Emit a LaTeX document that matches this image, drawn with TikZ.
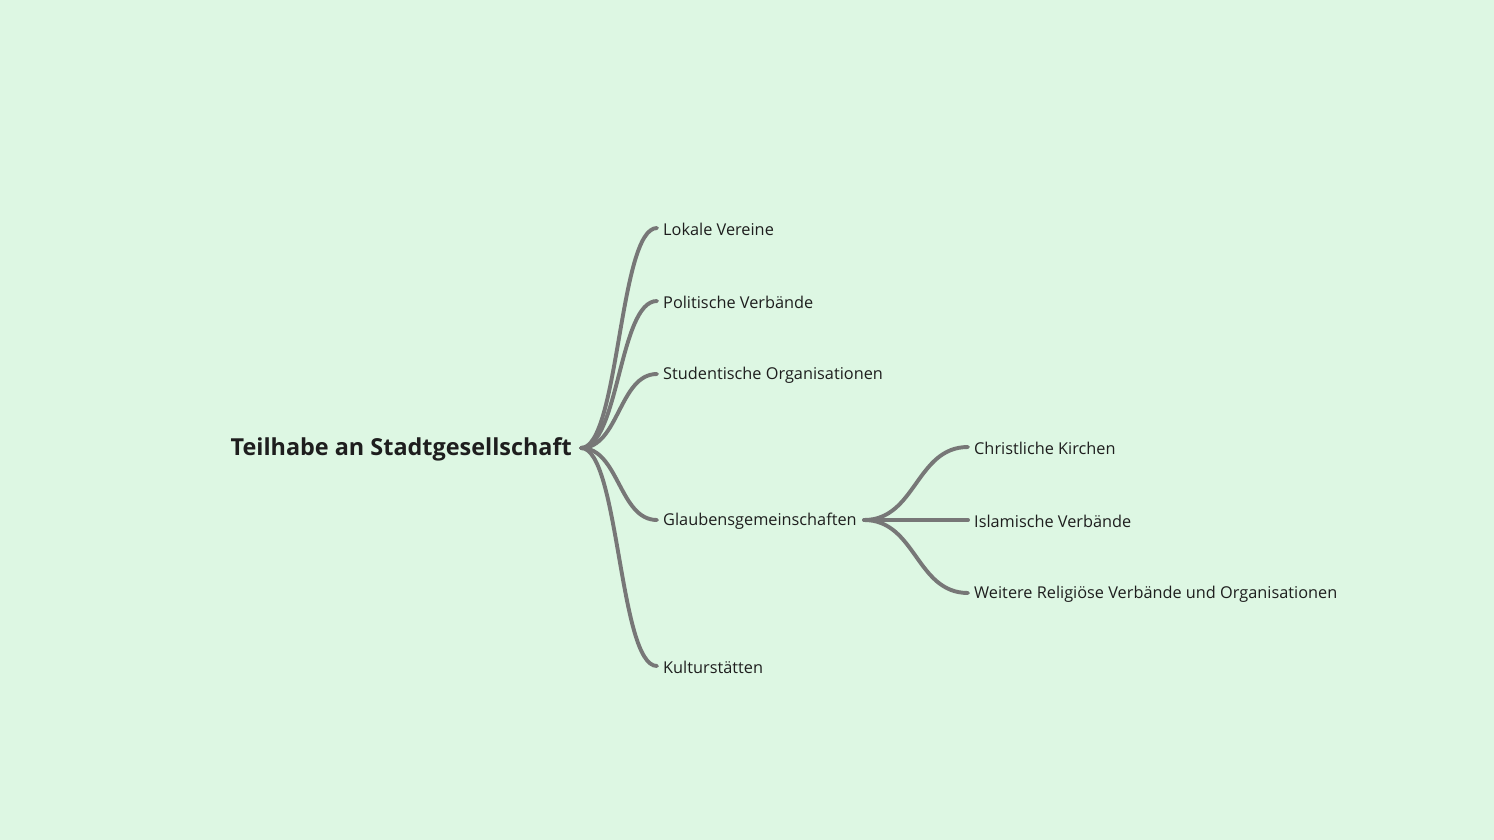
\documentclass[tikz,border=0pt]{standalone}
\usepackage{fontspec}
\setmainfont{Open Sans}
\usetikzlibrary{calc}
\definecolor{bg}{HTML}{DDF7E3}
\definecolor{edge}{HTML}{777777}
\definecolor{ink}{HTML}{1E1E1E}
\begin{document}
\begin{tikzpicture}[x=1pt,y=-1pt,
  leaf/.style={anchor=west,inner sep=0pt,text=ink,yshift=-1.2pt,font=\fontsize{16.3}{19}\selectfont},
  rootnode/.style={anchor=east,inner sep=0pt,text=ink,yshift=-1.5pt,font=\fontsize{23.4}{28}\selectfont\bfseries},
  conn/.style={draw=edge,line width=3.9pt,line cap=round}]
\fill[bg] (0,0) rectangle (1494,840);
\useasboundingbox (0,0) rectangle (1494,840);
\node[rootnode] (root) at (572,448) {Teilhabe an Stadtgesellschaft};
\coordinate (r0) at (581,448);
\node[leaf] (a) at (663,228) {Lokale Vereine};
\node[leaf] (b) at (663,301) {Politische Verbände};
\node[leaf] (c) at (663,374) {Studentische Organisationen};
\node[leaf] (d) at (663,520) {Glaubensgemeinschaften};
\node[leaf] (e) at (663,666) {Kulturstätten};
\coordinate (g0) at (864,520);
\node[leaf] (f) at (974,447) {Christliche Kirchen};
\node[leaf] (g) at (974,520) {Islamische Verbände};
\node[leaf] (h) at (974,593) {Weitere Religiöse Verbände und Organisationen};
\foreach \n in {a,b,c,d,e}{
  \draw[conn] (r0) .. controls ($(r0)+(38,0)$) and ($(\n.west)+(-44,-1.2)$) .. ($(\n.west)+(-6,-1.2)$);
}
\foreach \n in {f,g,h}{
  \draw[conn] (g0) .. controls ($(g0)+(52,0)$) and ($(\n.west)+(-58,-1.2)$) .. ($(\n.west)+(-6,-1.2)$);
}
\end{tikzpicture}
\end{document}
